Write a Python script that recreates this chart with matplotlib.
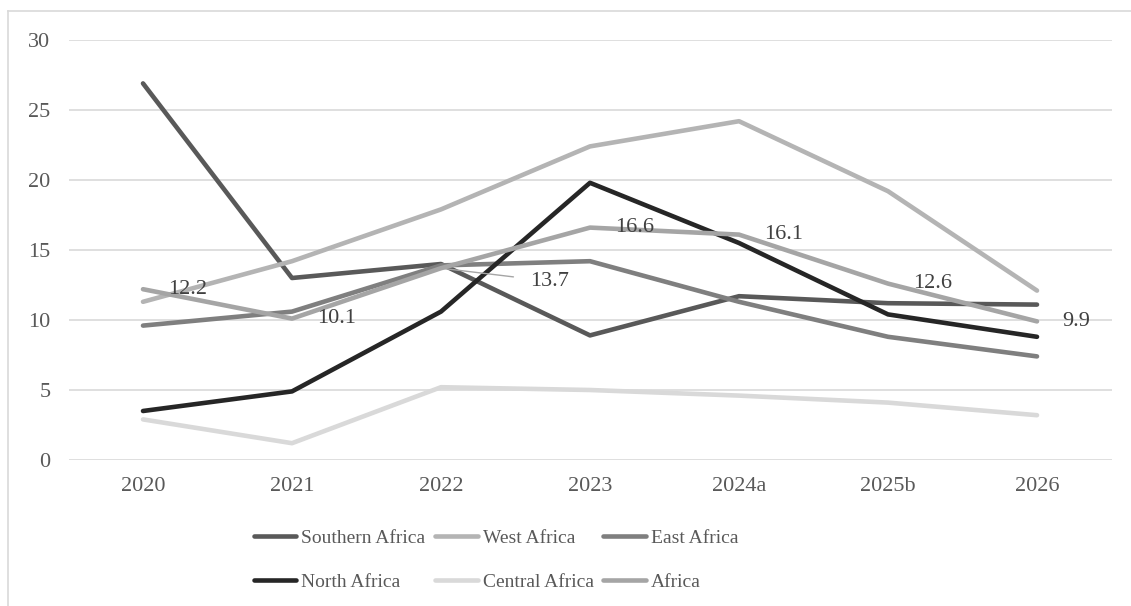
import numpy as np
import matplotlib.pyplot as plt
from matplotlib.lines import Line2D

plt.rcParams['font.family'] = ['Liberation Serif', 'DejaVu Serif']

years = ["2020", "2021", "2022", "2023", "2024a", "2025b", "2026"]

southern = [26.9, 13.0, 14.0, 8.9, 11.7, 11.2, 11.1]
west = [11.3, 14.2, 17.9, 22.4, 24.2, 19.2, 12.1]
east = [9.6, 10.6, 13.9, 14.2, 11.3, 8.8, 7.4]
north = [3.5, 4.9, 10.6, 19.8, 15.5, 10.4, 8.8]
central = [2.9, 1.2, 5.2, 5.0, 4.6, 4.1, 3.2]
africa = [12.2, 10.1, 13.7, 16.6, 16.1, 12.6, 9.9]

names = ["Southern Africa", "West Africa", "East Africa",
         "North Africa", "Central Africa", "Africa"]
series = [southern, west, east, north, central, africa]
colors = ["#595959", "#b4b4b4", "#7f7f7f", "#262626", "#d9d9d9", "#a5a5a5"]

W, H = 1131, 606
fig = plt.figure(figsize=(W / 100, H / 100), dpi=100)
ax = fig.add_axes([68.5 / W, 1 - 460 / H, (1111.5 - 68.5) / W, 420 / H])

x = np.arange(len(years))
lines = []
for name, vals, c in zip(names, series, colors):
    ln, = ax.plot(x, vals, color=c, lw=3.3, label=name,
                  solid_capstyle='round', solid_joinstyle='round')
    lines.append(ln)

# data labels on the Africa line
for i, v in enumerate(africa):
    if years[i] == "2022":
        ax.annotate(f"{v:.1f}", (x[i], v), xytext=(89, -13),
                    textcoords='offset pixels', ha='left', va='center',
                    fontsize=16, color='#404040',
                    arrowprops=dict(arrowstyle='-', color='#a5a5a5', lw=1,
                                    shrinkA=10, shrinkB=2))
    else:
        ax.annotate(f"{v:.1f}", (x[i], v), xytext=(25, 0),
                    textcoords='offset pixels', ha='left', va='center',
                    fontsize=16, color='#404040')

ax.set_xlim(-0.5, len(years) - 0.5)
ax.set_ylim(0, 30)
ax.set_yticks(range(0, 31, 5))
ax.set_xticks(x)
ax.set_xticklabels(years)
ax.grid(axis='y', color='#d9d9d9', lw=1.2)
ax.set_axisbelow(True)
for s in ax.spines.values():
    s.set_visible(False)
ax.tick_params(length=0, labelsize=16, labelcolor='#595959')
ax.tick_params(axis='x', pad=12)
ax.tick_params(axis='y', pad=13)

# legend, filled row by row
order = [0, 3, 1, 4, 2, 5]
ax.legend([lines[i] for i in order], [names[i] for i in order], ncol=3,
          loc='center', bbox_to_anchor=(496 / W, 1 - 560 / H),
          bbox_transform=fig.transFigure, frameon=False, fontsize=14,
          handlelength=2.2, handletextpad=0.25, columnspacing=0.5,
          labelspacing=1.35, labelcolor='#595959')

# chart area border
fig.add_artist(Line2D([8 / W, 1], [1 - 11 / H, 1 - 11 / H], color='#d9d9d9', lw=1.2))
fig.add_artist(Line2D([8 / W, 8 / W], [0, 1 - 11 / H], color='#d9d9d9', lw=1.2))

fig.savefig("out.png", dpi=100)
